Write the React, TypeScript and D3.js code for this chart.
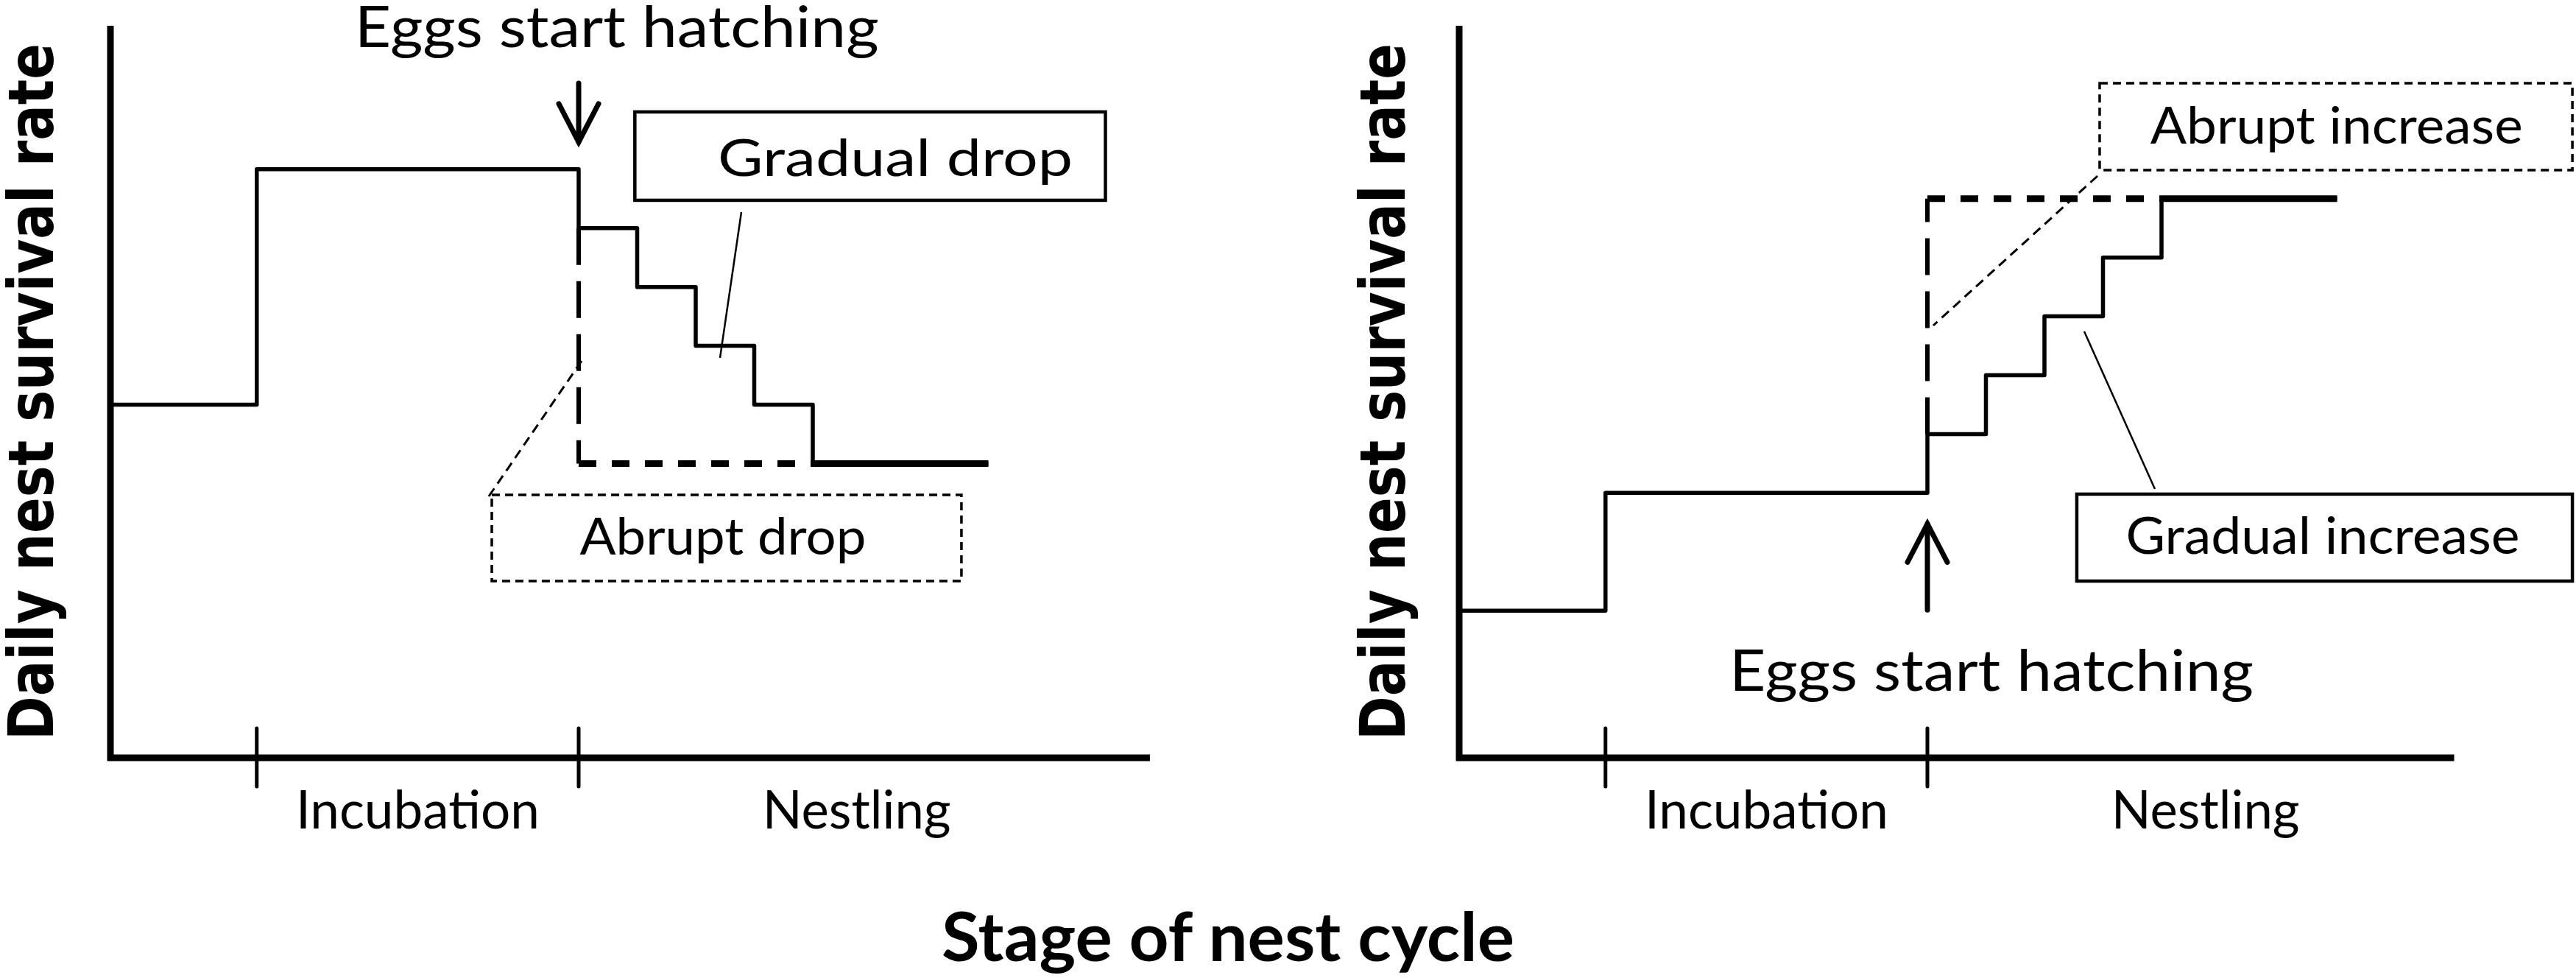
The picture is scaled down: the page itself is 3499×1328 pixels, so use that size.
import React, { useEffect } from "react";
import * as d3 from "d3";

// ---------- data ----------
const stageTicks = [2.5, 8]; // start of incubation, start of hatching (days)
const stageLabels = ["Incubation", "Nestling"];
const stageLabelPos = [5.25, 12.75];

// Left panel: gradual drop after hatching
const dropDays = [0, 2.5, 8, 9, 10, 11, 12, 15];
const dropRates = [0.948, 0.98, 0.972, 0.964, 0.956, 0.948, 0.94, 0.94];
// abrupt drop (dashed)
const abruptDropDays = [8, 8, 12];
const abruptDropRates = [0.972, 0.94, 0.94];

// Right panel: gradual increase after hatching
const riseDays = [0, 2.5, 8, 9, 10, 11, 12, 15];
const riseRates = [0.92, 0.936, 0.944, 0.952, 0.96, 0.968, 0.976, 0.976];
// abrupt increase (dashed)
const abruptRiseDays = [8, 8, 12];
const abruptRiseRates = [0.944, 0.976, 0.976];

const yAxisLabel = "Daily nest survival rate";
const xAxisLabel = "Stage of nest cycle";
const hatchLabel = "Eggs start hatching";

const W = 3499;
const H = 1328;
const yScale = d3.scaleLinear().domain([0.9, 1.0]).range([1029, 30]);
const xLeft = d3.scaleLinear().domain([0, 18]).range([150, 150 + 18 * 79.5]);
const xRight = d3.scaleLinear().domain([0, 18]).range([1982, 1982 + 18 * 79.5]);

const REG = "Lato, 'Open Sans', 'Noto Sans', sans-serif";
const BOLD_Y = "'DejaVu Sans', Verdana, sans-serif";

type Pt = [number, number];

function Panel(props: {
  x: d3.ScaleLinear<number, number>;
  days: number[];
  rates: number[];
  dDays: number[];
  dRates: number[];
  axisEnd: number;
  labelX: number;
  hatch: { cx: number; base: number; arrowFrom: number; arrowTo: number };
  solidBox: { x0: number; x1: number; y0: number; y1: number; text: string; tx: number; ty: number; tw: number; leader: Pt[] };
  dashBox: { x0: number; x1: number; y0: number; y1: number; text: string; tx: number; ty: number; tw: number; leader: Pt[] };
}) {
  const { x, days, rates, dDays, dRates } = props;
  const pts: Pt[] = days.map((d, i) => [d, rates[i]]);
  const line = d3
    .line<Pt>()
    .x((d) => x(d[0]))
    .y((d) => yScale(d[1]))
    .curve(d3.curveStepAfter);
  const straight = d3
    .line<Pt>()
    .x((d) => x(d[0]))
    .y((d) => yScale(d[1]));
  const n = pts.length;
  const dashPts: Pt[] = dDays.map((d, i) => [d, dRates[i]]);
  const x0 = x(0);
  const yBase = yScale(0.9);
  const yTop = yScale(0.9995);
  const hb = props.hatch;
  const ax = x(stageTicks[1]);
  const aFrom = yScale(hb.arrowFrom);
  const aTo = yScale(hb.arrowTo);
  const dir = aTo > aFrom ? 1 : -1;
  const sb = props.solidBox;
  const db = props.dashBox;
  return (
    <g>
      {/* y axis label */}
      <text
        transform={`translate(${props.labelX},${(yTop + yBase) / 2}) rotate(-90)`}
        textAnchor="middle"
        fontFamily={BOLD_Y}
        fontWeight="bold"
        fontSize={86}
        textLength={946}
        lengthAdjust="spacingAndGlyphs"
        fill="#000"
      >
        {yAxisLabel}
      </text>
      {/* axes */}
      <line x1={x0} x2={x0} y1={yTop} y2={yBase + 4} stroke="#000" strokeWidth={9} />
      <line x1={x0 - 4} x2={x(props.axisEnd)} y1={yBase} y2={yBase} stroke="#000" strokeWidth={9} />
      {stageTicks.map((t) => (
        <line key={t} x1={x(t)} x2={x(t)} y1={yBase - 40} y2={yBase + 39} stroke="#000" strokeWidth={5} strokeLinecap="round" />
      ))}
      {stageLabels.map((s, i) => (
        <text
          key={s}
          x={x(stageLabelPos[i])}
          y={1125}
          textAnchor="middle"
          fontFamily={REG}
          fontSize={72}
          textLength={s === "Incubation" ? 331 : 256}
          lengthAdjust="spacingAndGlyphs"
        >
          {s}
        </text>
      ))}
      {/* dashed abrupt change */}
      <path
        d={straight([dashPts[0], dashPts[1]]) || ""}
        fill="none"
        stroke="#000"
        strokeWidth={6}
        strokeDasharray="50,22"
      />
      <path
        d={straight([dashPts[1], dashPts[2]]) || ""}
        fill="none"
        stroke="#000"
        strokeWidth={9}
        strokeDasharray="24,21"
      />
      {/* solid gradual change */}
      <path d={line(pts) || ""} fill="none" stroke="#000" strokeWidth={5.5} strokeLinejoin="round" />
      <path d={straight([pts[n - 2], pts[n - 1]]) || ""} fill="none" stroke="#000" strokeWidth={9} />
      {/* hatching arrow and label */}
      <line x1={ax} x2={ax} y1={aFrom} y2={aTo} stroke="#000" strokeWidth={7} strokeLinecap="round" />
      <polyline
        points={`${ax - 27},${aTo - dir * 52} ${ax},${aTo} ${ax + 27},${aTo - dir * 52}`}
        fill="none"
        stroke="#000"
        strokeWidth={7}
        strokeLinecap="round"
        strokeLinejoin="miter"
      />
      <text
        x={x(hb.cx)}
        y={yScale(hb.base)}
        textAnchor="middle"
        fontFamily={REG}
        fontSize={78}
        textLength={712}
        lengthAdjust="spacingAndGlyphs"
      >
        {hatchLabel}
      </text>
      {/* solid callout */}
      <line
        x1={x(sb.leader[0][0])}
        y1={yScale(sb.leader[0][1])}
        x2={x(sb.leader[1][0])}
        y2={yScale(sb.leader[1][1])}
        stroke="#000"
        strokeWidth={2.5}
      />
      <rect
        x={x(sb.x0)}
        y={yScale(sb.y0)}
        width={x(sb.x1) - x(sb.x0)}
        height={yScale(sb.y1) - yScale(sb.y0)}
        fill="#fff"
        stroke="#000"
        strokeWidth={4.5}
      />
      <text
        x={x(sb.tx)}
        y={yScale(sb.ty)}
        textAnchor="middle"
        fontFamily={REG}
        fontSize={70}
        textLength={sb.tw}
        lengthAdjust="spacingAndGlyphs"
      >
        {sb.text}
      </text>
      {/* dashed callout */}
      <line
        x1={x(db.leader[0][0])}
        y1={yScale(db.leader[0][1])}
        x2={x(db.leader[1][0])}
        y2={yScale(db.leader[1][1])}
        stroke="#000"
        strokeWidth={3}
        strokeDasharray="13,8"
      />
      <rect
        x={x(db.x0)}
        y={yScale(db.y0)}
        width={x(db.x1) - x(db.x0)}
        height={yScale(db.y1) - yScale(db.y0)}
        fill="none"
        stroke="#000"
        strokeWidth={3.5}
        strokeDasharray="11,7"
      />
      <text
        x={x(db.tx)}
        y={yScale(db.ty)}
        textAnchor="middle"
        fontFamily={REG}
        fontSize={70}
        textLength={db.tw}
        lengthAdjust="spacingAndGlyphs"
      >
        {db.text}
      </text>
    </g>
  );
}

export default function App() {
  useEffect(() => {
    document.body.style.margin = "0";
  }, []);
  return (
    <svg width={W} height={H} viewBox={`0 0 ${W} ${H}`} style={{ display: "block", background: "#fff" }}>
      <rect width={W} height={H} fill="#fff" />
      <Panel
        x={xLeft}
        days={dropDays}
        rates={dropRates}
        dDays={abruptDropDays}
        dRates={abruptDropRates}
        axisEnd={17.76}
        labelX={72}
        hatch={{ cx: 8.65, base: 0.99660, arrowFrom: 0.9917, arrowTo: 0.9837 }}
        solidBox={{
          x0: 8.96, x1: 17.0, y0: 0.98779, y1: 0.97578,
          text: "Gradual drop", tx: 13.41, ty: 0.97908, tw: 482,
          leader: [[10.78, 0.97417], [10.415, 0.95435]],
        }}
        dashBox={{
          x0: 6.516, x1: 14.54, y0: 0.93574, y1: 0.92402,
          text: "Abrupt drop", tx: 10.465, ty: 0.92763, tw: 389,
          leader: [[6.465, 0.93554], [8.05, 0.95395]],
        }}
      />
      <Panel
        x={xRight}
        days={riseDays}
        rates={riseRates}
        dDays={abruptRiseDays}
        dRates={abruptRiseRates}
        axisEnd={17.0}
        labelX={1908}
        hatch={{ cx: 9.094, base: 0.90911, arrowFrom: 0.9201, arrowTo: 0.9318 }}
        solidBox={{
          x0: 10.553, x1: 19.02, y0: 0.93584, y1: 0.92402,
          text: "Gradual increase", tx: 14.755, ty: 0.92773, tw: 535,
          leader: [[10.679, 0.95796], [11.887, 0.93654]],
        }}
        dashBox={{
          x0: 10.943, x1: 19.02, y0: 0.99169, y1: 0.97988,
          text: "Abrupt increase", tx: 14.99, ty: 0.98348, tw: 506,
          leader: [[10.906, 0.97908], [8.1, 0.95876]],
        }}
      />
      <text
        x={1668}
        y={1305}
        textAnchor="middle"
        fontFamily={REG}
        fontWeight="bold"
        fontSize={92}
        textLength={778}
        lengthAdjust="spacingAndGlyphs"
      >
        {xAxisLabel}
      </text>
    </svg>
  );
}
